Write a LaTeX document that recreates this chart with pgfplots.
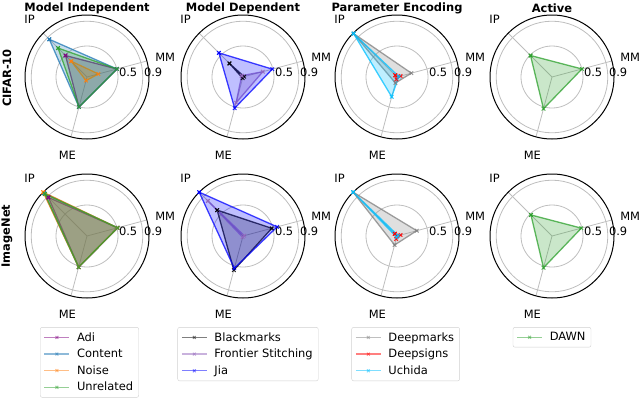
\documentclass[border=0pt]{standalone}
\usepackage{pgfplots}
\pgfplotsset{compat=1.18}
\usepgfplotslibrary{polar}
\usepackage{fontspec}
\setmainfont{DejaVu Sans}

\definecolor{cadi}{RGB}{128,0,128}
\definecolor{ccontent}{RGB}{31,119,180}
\definecolor{cnoise}{RGB}{255,127,14}
\definecolor{cunrel}{RGB}{44,160,44}
\definecolor{cblack}{RGB}{0,0,0}
\definecolor{cfs}{RGB}{148,103,189}
\definecolor{cjia}{RGB}{0,0,255}
\definecolor{cdeepm}{RGB}{128,128,128}
\definecolor{cdeeps}{RGB}{255,0,0}
\definecolor{cuchida}{RGB}{0,191,255}
\definecolor{cdawn}{RGB}{44,160,44}
\definecolor{gridgray}{RGB}{190,190,190}

\newcommand{\fs}{\fontsize{11.5}{13.8}\selectfont}

\pgfplotsset{
  legend image code/.code={\draw[mark repeat=2,mark phase=2,#1] plot coordinates {(0bp,0bp) (12.5bp,0bp) (25bp,0bp)};},
  radar/.style={
    scale only axis, width=124bp, height=124bp,
    anchor=center, clip=false,
    xmin=0, xmax=360, ymin=0, ymax=1,
    xtick={15,135,255}, xticklabels={,,},
    ytick={0.5,0.9}, yticklabels={,,},
    grid=major, major grid style={gridgray, line width=0.8bp},
    x axis line style={black, line width=1bp},
    y axis line style={draw=none},
    major tick length=0pt,
    legend style={font=\fs, draw=black!18, rounded corners=2bp, fill=white,
      anchor=north, inner xsep=3.5bp, inner ysep=3bp, row sep=2.5bp, column sep=5bp,
      cells={anchor=west}},
  },
  ser/.style={draw=#1, draw opacity=0.75, line width=1.3bp, fill=#1, fill opacity=0.25,
    mark=x, mark size=2.5bp, mark options={draw opacity=0.85, line width=1bp}, forget plot},
  leg/.style={draw=#1, draw opacity=0.5, line width=1.3bp, mark=x, mark size=2bp,
    mark options={draw opacity=0.5, line width=1bp}},
}

\newcommand{\labs}{%
  \node at (axis cs:135,1.31) {IP};
  \node at (axis cs:14,1.30) {MM};
  \node at (axis cs:256,1.31) {ME};
  \node[anchor=west, inner sep=0pt] at (axis cs:9,0.52) {0.5};
  \node[anchor=west, inner sep=0pt] at (axis cs:5,0.92) {0.9};
}

\begin{document}
\begin{tikzpicture}[font=\fs]
\useasboundingbox (0bp,0bp) rectangle (640bp,-403bp);

\node[rotate=90, font=\fs\bfseries] at (7bp,-78bp) {CIFAR-10};
\node[rotate=90, font=\fs\bfseries] at (7bp,-236bp) {ImageNet};

\node[font=\fs\bfseries] at (87bp,-8bp) {Model Independent};
\node[font=\fs\bfseries] at (243bp,-8bp) {Model Dependent};
\node[font=\fs\bfseries] at (397bp,-8bp) {Parameter Encoding};
\node[font=\fs\bfseries] at (552bp,-8bp) {Active};

% ---------- Row 1: CIFAR-10 ----------
\begin{polaraxis}[radar, at={(87bp,-77bp)}]
\addplot[ser=cadi] coordinates {(135,0.49) (15,0.50) (255,0.50) (135,0.49)};
\addplot[ser=ccontent] coordinates {(135,0.86) (15,0.50) (255,0.50) (135,0.86)};
\addplot[ser=cnoise] coordinates {(135,0.36) (15,0.19) (255,0.06) (135,0.36)};
\addplot[ser=cunrel] coordinates {(135,0.66) (15,0.50) (255,0.50) (135,0.66)};
\labs
\end{polaraxis}

\begin{polaraxis}[radar, at={(243bp,-77bp)}]
\addplot[ser=cblack] coordinates {(135,0.31) (15,0.02) (255,0.02) (135,0.31)};
\addplot[ser=cfs] coordinates {(135,0.03) (15,0.33) (255,0.43) (135,0.03)};
\addplot[ser=cjia] coordinates {(135,0.55) (15,0.49) (255,0.52) (135,0.55)};
\labs
\end{polaraxis}

\begin{polaraxis}[radar, at={(397bp,-77bp)}]
\addplot[ser=cdeepm] coordinates {(135,0.99) (15,0.24) (255,0.10) (135,0.99)};
\addplot[ser=cdeeps] coordinates {(135,0.04) (15,0.06) (255,0.04) (135,0.04)};
\addplot[ser=cuchida] coordinates {(135,0.99) (15,0.03) (255,0.33) (135,0.99)};
\labs
\end{polaraxis}

\begin{polaraxis}[radar, at={(552bp,-77bp)}]
\addplot[ser=cdawn] coordinates {(135,0.49) (15,0.50) (255,0.53) (135,0.49)};
\labs
\end{polaraxis}

% ---------- Row 2: ImageNet ----------
\begin{polaraxis}[radar, at={(87bp,-236bp)}, legend style={at={(0.52,-0.235)}}]
\addlegendimage{leg=cadi}\addlegendentry{Adi}
\addlegendimage{leg=ccontent}\addlegendentry{Content}
\addlegendimage{leg=cnoise}\addlegendentry{Noise}
\addlegendimage{leg=cunrel}\addlegendentry{Unrelated}
\addplot[ser=cadi] coordinates {(135,0.88) (15,0.51) (255,0.52) (135,0.88)};
\addplot[ser=ccontent] coordinates {(135,0.98) (15,0.51) (255,0.52) (135,0.98)};
\addplot[ser=cnoise] coordinates {(135,1.00) (15,0.51) (255,0.52) (135,1.00)};
\addplot[ser=cunrel] coordinates {(135,0.96) (15,0.51) (255,0.52) (135,0.96)};
\labs
\end{polaraxis}

\begin{polaraxis}[radar, at={(243bp,-236bp)}, legend style={at={(0.54,-0.235)}}]
\addlegendimage{leg=cblack}\addlegendentry{Blackmarks}
\addlegendimage{leg=cfs}\addlegendentry{Frontier Stitching}
\addlegendimage{leg=cjia}\addlegendentry{Jia}
\addplot[ser=cblack] coordinates {(135,0.59) (15,0.48) (255,0.57) (135,0.59)};
\addplot[ser=cfs] coordinates {(135,0.80) (15,0.02) (255,0.02) (135,0.80)};
\addplot[ser=cjia] coordinates {(135,1.00) (15,0.57) (255,0.54) (135,1.00)};
\labs
\end{polaraxis}

\begin{polaraxis}[radar, at={(397bp,-236bp)}, legend style={at={(0.57,-0.235)}}]
\addlegendimage{leg=cdeepm}\addlegendentry{Deepmarks}
\addlegendimage{leg=cdeeps}\addlegendentry{Deepsigns}
\addlegendimage{leg=cuchida}\addlegendentry{Uchida}
\addplot[ser=cdeepm] coordinates {(135,1.00) (15,0.33) (255,0.15) (135,1.00)};
\addplot[ser=cdeeps] coordinates {(135,0.05) (15,0.06) (255,0.05) (135,0.05)};
\addplot[ser=cuchida] coordinates {(135,1.00) (15,0.02) (255,0.02) (135,1.00)};
\labs
\end{polaraxis}

\begin{polaraxis}[radar, at={(552bp,-236bp)}, legend style={at={(0.5,-0.235)}}]
\addlegendimage{leg=cdawn}\addlegendentry{DAWN}
\addplot[ser=cdawn] coordinates {(135,0.48) (15,0.49) (255,0.53) (135,0.48)};
\labs
\end{polaraxis}

\end{tikzpicture}
\end{document}
